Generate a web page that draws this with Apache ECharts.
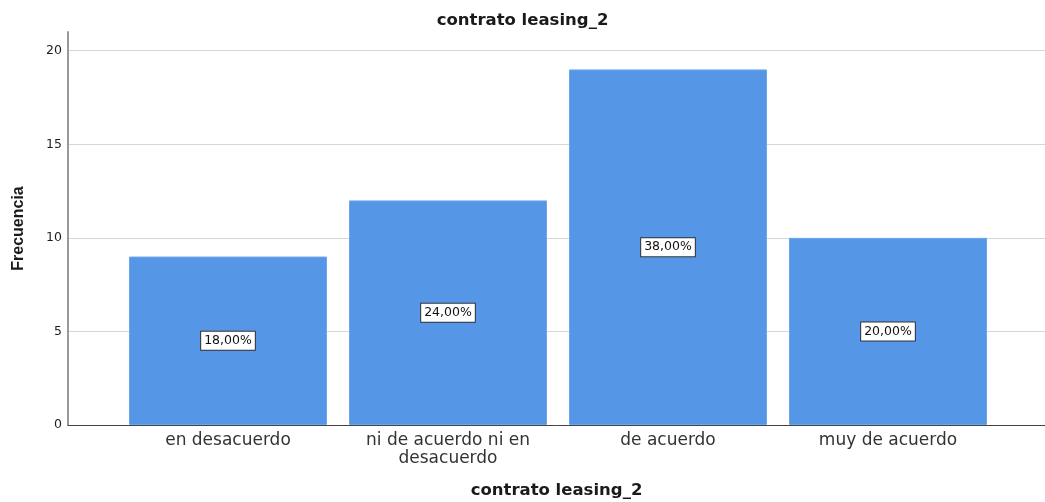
<!DOCTYPE html>
<html>
<head>
<meta charset="utf-8">
<script src="https://cdn.jsdelivr.net/npm/echarts@6/dist/echarts.min.js"></script>
<style>
  html, body { margin: 0; padding: 0; background: #fff; }
  #chart { width: 1045px; height: 502px; }
</style>
</head>
<body>
<div id="chart"></div>
<script>
// Frequency of answers for "contrato leasing_2"
const categories = ['en desacuerdo', 'ni de acuerdo ni en\ndesacuerdo', 'de acuerdo', 'muy de acuerdo'];
const frequencies = [9, 12, 19, 10];
const percentLabels = ['18,00%', '24,00%', '38,00%', '20,00%'];
const yTicks = [0, 5, 10, 15, 20];

const font = '"DejaVu Sans", Verdana, sans-serif';
const boldFont = 'Arial, "Liberation Sans", sans-serif';
const chart = echarts.init(document.getElementById('chart'), null, { renderer: 'canvas' });

chart.setOption({
  animation: false,
  backgroundColor: '#ffffff',
  title: {
    text: 'contrato leasing_2',
    left: 'center',
    top: 7,
    textStyle: { fontFamily: font, fontSize: 16.5, fontWeight: 'bold', color: '#1a1a1a' }
  },
  grid: [
    // frame: y axis, gridlines, baseline
    { left: 68, right: 0, top: 32, bottom: 77, outerBoundsMode: 'none', containLabel: false },
    // bars with category labels
    { left: 118, right: 47, top: 32, bottom: 77, outerBoundsMode: 'none', containLabel: false }
  ],
  xAxis: [
    {
      gridIndex: 0, type: 'value', min: 0, max: 1,
      axisLine: { show: true, lineStyle: { color: '#444', width: 1 } },
      axisTick: { show: false }, axisLabel: { show: false }, splitLine: { show: false },
      name: 'contrato leasing_2', nameLocation: 'middle', nameGap: 57,
      nameTextStyle: { fontFamily: font, fontSize: 16.5, fontWeight: 'bold', color: '#1a1a1a' }
    },
    {
      gridIndex: 1, type: 'category', data: categories,
      axisLine: { show: false }, axisTick: { show: false },
      axisLabel: { fontFamily: font, fontSize: 17, color: '#333', margin: 7, lineHeight: 18, interval: 0 }
    }
  ],
  yAxis: [
    {
      gridIndex: 0, type: 'value', min: 0, max: 21, interval: 5,
      axisLine: { show: true, lineStyle: { color: '#999', width: 2 } },
      axisTick: { show: false },
      axisLabel: {
        fontFamily: font, fontSize: 12.5, color: '#1e1e1e', margin: 6,
        formatter: v => (yTicks.includes(v) ? String(v) : '')
      },
      splitLine: { show: true, showMaxLine: false, lineStyle: { color: '#d6d6d6', width: 1 } },
      name: 'Frecuencia', nameLocation: 'middle', nameGap: 41, nameRotate: 90,
      nameTextStyle: { fontFamily: boldFont, fontSize: 16, fontWeight: 'bold', color: '#1a1a1a' }
    },
    {
      gridIndex: 1, type: 'value', min: 0, max: 21, show: false
    }
  ],
  series: [{
    type: 'bar',
    xAxisIndex: 1, yAxisIndex: 1,
    data: frequencies,
    barWidth: 198,
    itemStyle: { color: '#5596e6', borderColor: '#6ea6ec', borderWidth: 1 },
    label: {
      show: true,
      position: 'inside',
      formatter: p => percentLabels[p.dataIndex],
      fontFamily: font, fontSize: 12.5, color: '#111',
      backgroundColor: '#ffffff', borderColor: '#333', borderWidth: 1,
      padding: [3, 3, 2, 3]
    }
  }]
});
</script>
</body>
</html>
